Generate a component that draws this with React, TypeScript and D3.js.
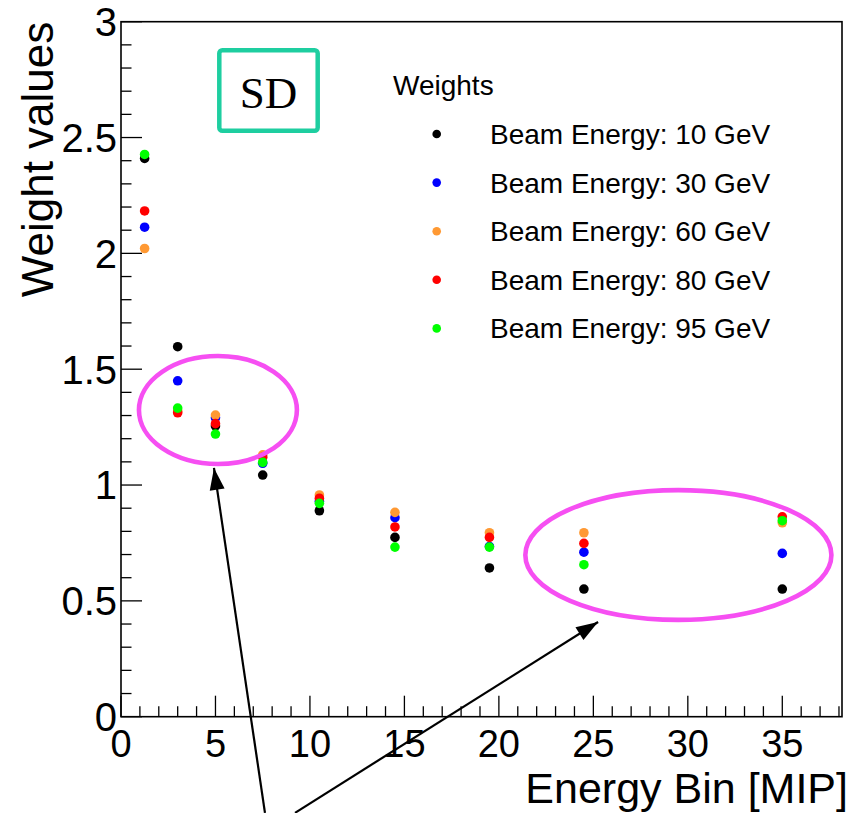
import React from "react";
import * as d3 from "d3";

// ---- data ----
const X_BINS = [1.25, 3, 5, 7.5, 10.5, 14.5, 19.5, 24.5, 35];
const W_10GEV = [2.41, 1.597, 1.255, 1.043, 0.889, 0.774, 0.642, 0.551, 0.551];
const W_30GEV = [2.113, 1.45, 1.29, 1.094, 0.93, 0.859, 0.735, 0.71, 0.705];
const W_60GEV = [2.021, 1.32, 1.302, 1.13, 0.957, 0.882, 0.794, 0.794, 0.837];
const W_80GEV = [2.183, 1.312, 1.265, 1.12, 0.943, 0.819, 0.774, 0.748, 0.863];
const W_95GEV = [2.427, 1.332, 1.22, 1.098, 0.921, 0.732, 0.732, 0.656, 0.846];
const SERIES_VALUES = [W_10GEV, W_30GEV, W_60GEV, W_80GEV, W_95GEV];
const SERIES_LABELS = [
  "Beam Energy: 10 GeV",
  "Beam Energy: 30 GeV",
  "Beam Energy: 60 GeV",
  "Beam Energy: 80 GeV",
  "Beam Energy: 95 GeV",
];
const SERIES_COLORS = ["#000000", "#0000ff", "#ff9933", "#ff0000", "#00ff00"];
const X_TICKS = [0, 5, 10, 15, 20, 25, 30, 35];
const X_TICK_LABELS = ["0", "5", "10", "15", "20", "25", "30", "35"];
const Y_TICKS = [0, 0.5, 1, 1.5, 2, 2.5, 3];
const Y_TICK_LABELS = ["0", "0.5", "1", "1.5", "2", "2.5", "3"];
const X_TITLE = "Energy Bin [MIP]";
const Y_TITLE = "Weight values";
const LEGEND_TITLE = "Weights";
const TAG = "SD";

// annotations in data units
const ELLIPSES = [
  { cx: 5.13, cy: 1.324, rx: 4.18, ry: 0.233 },
  { cx: 29.5, cy: 0.698, rx: 8.1, ry: 0.28 },
];
const ARROWS = [
  { x0: 7.62, y0: -0.415, x1: 4.92, y1: 1.074 },
  { x0: 9.21, y0: -0.415, x1: 25.25, y1: 0.409 },
];

const W = 851;
const H = 813;
const SANS = "'Liberation Sans', Arial, Helvetica, sans-serif";
const SERIF = "'Liberation Serif', 'Times New Roman', serif";

export default function App() {
  const x = d3.scaleLinear().domain([0, 38.16]).range([121, 842]);
  const y = d3.scaleLinear().domain([0, 3]).range([716.7, 21.7]);
  const [x0, x1] = x.range();
  const [y0, y1] = y.range();

  const xMinor = d3.range(0, 38.5, 1).filter((v) => v % 5 !== 0);
  const yMinor = d3.range(0, 3.0001, 0.1).filter((v) => Math.abs(v * 2 - Math.round(v * 2)) > 1e-6);

  const pink = "#f64ff2";

  const arrowHead = (a: any) => {
    const tx = x(a.x1), ty = y(a.y1);
    const sx = x(a.x0), sy = y(a.y0);
    const dx = tx - sx, dy = ty - sy;
    const L = Math.hypot(dx, dy);
    const ux = dx / L, uy = dy / L;
    const len = 22, hw = 7.5;
    const bx = tx - ux * len, by = ty - uy * len;
    const px = -uy, py = ux;
    return `${tx},${ty} ${bx + px * hw},${by + py * hw} ${bx - px * hw},${by - py * hw}`;
  };

  return (
    <svg
      width={W}
      height={H}
      style={{ position: "absolute", left: 0, top: 0, background: "#fff" }}
      xmlns="http://www.w3.org/2000/svg"
    >
      <rect x={0} y={0} width={W} height={H} fill="#fff" />
      {/* frame */}
      <rect x={x0} y={y1} width={x1 - x0} height={y0 - y1} fill="none" stroke="#000" strokeWidth={1.6} />

      {/* x ticks */}
      {X_TICKS.map((t) => (
        <line key={"xM" + t} x1={x(t)} x2={x(t)} y1={y0} y2={y0 - 21} stroke="#000" strokeWidth={1.3} />
      ))}
      {xMinor.map((t) => (
        <line key={"xm" + t} x1={x(t)} x2={x(t)} y1={y0} y2={y0 - 10.5} stroke="#000" strokeWidth={1.3} />
      ))}
      {/* y ticks */}
      {Y_TICKS.map((t) => (
        <line key={"yM" + t} x1={x0} x2={x0 + 21} y1={y(t)} y2={y(t)} stroke="#000" strokeWidth={1.3} />
      ))}
      {yMinor.map((t) => (
        <line key={"ym" + t.toFixed(2)} x1={x0} x2={x0 + 10.5} y1={y(t)} y2={y(t)} stroke="#000" strokeWidth={1.3} />
      ))}

      {/* tick labels */}
      {X_TICKS.map((t, i) => (
        <text key={"xl" + t} x={x(t)} y={757} textAnchor="middle" fontFamily={SANS} fontSize={38} fill="#000">
          {X_TICK_LABELS[i]}
        </text>
      ))}
      {Y_TICKS.map((t, i) => (
        <text key={"yl" + t} x={117} y={y(t) + 14.3} textAnchor="end" fontFamily={SANS} fontSize={40} fill="#000">
          {Y_TICK_LABELS[i]}
        </text>
      ))}

      {/* axis titles */}
      <text x={848} y={803} textAnchor="end" fontFamily={SANS} fontSize={43} fill="#000">
        {X_TITLE}
      </text>
      <text
        transform={`translate(53,${y1}) rotate(-90)`}
        textAnchor="end"
        fontFamily={SANS}
        fontSize={44}
        fill="#000"
      >
        {Y_TITLE}
      </text>

      {/* data points */}
      {SERIES_VALUES.map((vals, si) =>
        vals.map((v, i) => (
          <circle key={`p${si}-${i}`} cx={x(X_BINS[i])} cy={y(v)} r={4.8} fill={SERIES_COLORS[si]} />
        ))
      )}

      {/* tag box */}
      <rect x={219.3} y={50.3} width={98.4} height={80.4} rx={3} fill="none" stroke="#1ecea0" strokeWidth={4.5} />
      <text x={268.5} y={108} textAnchor="middle" fontFamily={SERIF} fontSize={45} fill="#000">
        {TAG}
      </text>

      {/* legend */}
      <text x={393} y={95} fontFamily={SANS} fontSize={28} fill="#000">
        {LEGEND_TITLE}
      </text>
      {SERIES_LABELS.map((lab, i) => {
        const cy = 134 + i * 48.6;
        return (
          <g key={"lg" + i}>
            <circle cx={436.7} cy={cy} r={4.3} fill={SERIES_COLORS[i]} />
            <text x={490} y={cy + 10} fontFamily={SANS} fontSize={28} fill="#000">
              {lab}
            </text>
          </g>
        );
      })}

      {/* annotations */}
      {ELLIPSES.map((e, i) => (
        <ellipse
          key={"el" + i}
          cx={x(e.cx)}
          cy={y(e.cy)}
          rx={x(e.cx + e.rx) - x(e.cx)}
          ry={y(e.cy) - y(e.cy + e.ry)}
          fill="none"
          stroke={pink}
          strokeWidth={4.6}
        />
      ))}
      {ARROWS.map((a, i) => (
        <g key={"ar" + i}>
          <line x1={x(a.x0)} y1={y(a.y0)} x2={x(a.x1)} y2={y(a.y1)} stroke="#000" strokeWidth={2.2} />
          <polygon points={arrowHead(a)} fill="#000" />
        </g>
      ))}
    </svg>
  );
}
